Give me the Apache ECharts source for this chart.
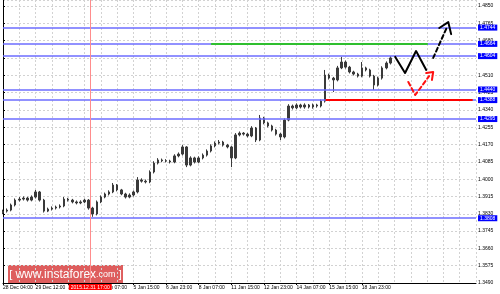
<!DOCTYPE html>
<html><head><meta charset="utf-8">
<script src="https://cdn.jsdelivr.net/npm/echarts@6/dist/echarts.min.js"></script>
<style>html,body{margin:0;padding:0;background:#fff}#c{width:500px;height:294px}</style>
</head><body><div id="c"></div>
<script>
// ---- data (4-hour candles) ----
const opens=[1.3835,1.3843,1.3848,1.3873,1.3897,1.3902,1.3907,1.3897,1.3912,1.3937,
 1.3897,1.3843,1.3853,1.3858,1.3863,1.3868,1.3902,1.3897,1.3888,1.3883,
 1.3888,1.3897,1.3858,1.3829,1.3888,1.3912,1.3927,1.3937,1.3971,1.3947,
 1.3927,1.3912,1.3922,1.3937,1.3996,1.3990,1.3986,1.4035,1.4079,1.4094,
 1.4090,1.4089,1.4084,1.4114,1.4123,1.4158,1.4069,1.4104,1.4084,1.4104,
 1.4118,1.4138,1.4163,1.4177,1.4182,1.4167,1.4158,1.4104,1.4217,1.4226,
 1.4221,1.4212,1.4251,1.4192,1.4300,1.4276,1.4261,1.4241,1.4221,1.4207,
 1.4290,1.4359,1.4350,1.4364,1.4354,1.4364,1.4354,1.4364,1.4359,1.4383,
 1.4511,1.4496,1.4487,1.4546,1.4575,1.4550,1.4526,1.4516,1.4506,1.4546,
 1.4536,1.4506,1.4462,1.4496,1.4546,1.4570];
const closes=[1.3843,1.3848,1.3873,1.3897,1.3902,1.3907,1.3897,1.3912,1.3937,1.3897,
 1.3843,1.3853,1.3858,1.3863,1.3868,1.3902,1.3897,1.3888,1.3883,1.3888,
 1.3897,1.3858,1.3829,1.3888,1.3912,1.3927,1.3937,1.3971,1.3947,1.3927,
 1.3912,1.3922,1.3937,1.3996,1.3990,1.3986,1.4035,1.4079,1.4094,1.4090,
 1.4089,1.4084,1.4114,1.4123,1.4158,1.4069,1.4104,1.4084,1.4104,1.4118,
 1.4138,1.4163,1.4177,1.4182,1.4167,1.4158,1.4104,1.4217,1.4226,1.4221,
 1.4212,1.4251,1.4192,1.4300,1.4276,1.4261,1.4241,1.4221,1.4207,1.4290,
 1.4359,1.4350,1.4364,1.4354,1.4364,1.4354,1.4364,1.4359,1.4383,1.4511,
 1.4496,1.4487,1.4546,1.4575,1.4550,1.4526,1.4516,1.4506,1.4546,1.4536,
 1.4506,1.4462,1.4496,1.4546,1.4570,1.4595];
const highs=[1.3850,1.3856,1.3880,1.3905,1.3912,1.3915,1.3913,1.3920,1.3947,1.3942,
 1.3903,1.3860,1.3866,1.3870,1.3876,1.3912,1.3908,1.3903,1.3895,1.3896,
 1.3904,1.3902,1.3864,1.3895,1.3920,1.3934,1.3945,1.3981,1.3976,1.3952,
 1.3933,1.3930,1.3944,1.4010,1.4004,1.3998,1.4043,1.4088,1.4103,1.4101,
 1.4098,1.4095,1.4122,1.4131,1.4167,1.4162,1.4112,1.4110,1.4112,1.4126,
 1.4146,1.4171,1.4185,1.4192,1.4188,1.4173,1.4163,1.4226,1.4234,1.4231,
 1.4227,1.4260,1.4256,1.4315,1.4306,1.4282,1.4267,1.4247,1.4227,1.4298,
 1.4368,1.4366,1.4372,1.4370,1.4372,1.4369,1.4371,1.4370,1.4391,1.4536,
 1.4518,1.4502,1.4556,1.4600,1.4582,1.4556,1.4532,1.4522,1.4575,1.4552,
 1.4542,1.4512,1.4503,1.4554,1.4578,1.4604];
const lows=[1.3828,1.3836,1.3842,1.3866,1.3890,1.3895,1.3890,1.3891,1.3905,1.3890,
 1.3836,1.3838,1.3846,1.3851,1.3856,1.3862,1.3890,1.3881,1.3876,1.3877,
 1.3882,1.3850,1.3815,1.3822,1.3882,1.3906,1.3920,1.3931,1.3940,1.3921,
 1.3905,1.3906,1.3915,1.3930,1.3983,1.3979,1.3980,1.4028,1.4072,1.4083,
 1.4082,1.4077,1.4078,1.4107,1.4116,1.4059,1.4063,1.4077,1.4078,1.4097,
 1.4111,1.4131,1.4156,1.4170,1.4160,1.4151,1.4059,1.4098,1.4210,1.4214,
 1.4205,1.4206,1.4182,1.4186,1.4269,1.4254,1.4234,1.4214,1.4192,1.4200,
 1.4284,1.4342,1.4344,1.4347,1.4346,1.4347,1.4346,1.4351,1.4352,1.4376,
 1.4489,1.4428,1.4480,1.4540,1.4543,1.4519,1.4509,1.4499,1.4500,1.4529,
 1.4499,1.4438,1.4455,1.4489,1.4539,1.4563];

const xTickIndex=[0,8,16,24,32,40,48,56,64,72,80,88];
const xTickText=['28 Dec 04:00','29 Dec 12:00','30 Dec 20:00','4 Jan 07:00','5 Jan 15:00','6 Jan 23:00',
 '8 Jan 07:00','11 Jan 15:00','12 Jan 23:00','14 Jan 07:00','15 Jan 15:00','18 Jan 23:00'];
const yMin=1.3490, yStep=0.0085;

const levelPrices=[1.4744,1.4664,1.4604,1.4440,1.4388,1.4295,1.3808];
const cursorX=21.4, cursorText='2015.12.31 17:00';
const redLevel=[[79.3,1.4388],[115.0,1.4388]];
const greenLevel=[[51.2,1.4664],[104.0,1.4664]];
const blackZig=[[96.2,1.4600],[98.6,1.4521],[101.3,1.4629],[103.8,1.4536]];
const blackDash=[[105.5,1.4595],[108.9,1.4747]];
const blackHead=[[107.0,1.4742],[109.2,1.4771],[109.9,1.4712]];
const redDash=[[99.4,1.4477],[101.1,1.4413],[104.5,1.4506]];
const redHead=[[103.8,1.4521],[105.5,1.4526],[105.2,1.4487]];

// ---- chart ----
const N=117;
const cats=Array.from({length:N},(_,i)=>String(i));
const candleData=opens.map((o,i)=>[o,closes[i],lows[i],highs[i]]);
const FONT='Liberation Sans';
const chart=echarts.init(document.getElementById('c'),null,{renderer:'canvas'});
const lineS=(data,color,width,type,z)=>({type:'line',xAxisIndex:1,data,symbol:'none',silent:true,z:z||5,
  lineStyle:{color,width,type:type||'solid',cap:'round',join:'round'},animation:false});
chart.setOption({
  animation:false,
  backgroundColor:'#fff',
  grid:{left:2,right:24,top:0,bottom:11,containLabel:false},
  xAxis:[{type:'category',data:cats,boundaryGap:false,
    axisLine:{show:true,lineStyle:{color:'#000',width:1}},
    axisTick:{show:true,length:2,interval:(i)=>xTickIndex.includes(i),lineStyle:{color:'#000'}},
    axisLabel:{show:true,interval:(i)=>xTickIndex.includes(i),align:'left',margin:2,fontSize:5,color:'#000',fontFamily:FONT,
      formatter:(v,i)=>{const k=xTickIndex.indexOf(Number(v));return k>=0?xTickText[k]:'';}},
    splitLine:{show:true,interval:(i)=>i%4===0,lineStyle:{color:'#d2d2d2',type:[2,2],width:1}}},
   {type:'value',min:0,max:N-1,show:false}],
  yAxis:{type:'value',position:'right',min:yMin,max:1.48795,interval:yStep,
    axisLine:{show:true,lineStyle:{color:'#000',width:1}},
    axisTick:{show:true,length:2,lineStyle:{color:'#000'}},
    axisLabel:{fontSize:5,color:'#000',margin:2,fontFamily:FONT,showMaxLabel:false,formatter:v=>v.toFixed(4)},
    splitLine:{show:true,lineStyle:{color:'#d2d2d2',type:[2,2],width:1}}},
  series:[
    {type:'line',xAxisIndex:1,data:[],symbol:'none',z:3,
      markLine:{silent:true,symbol:'none',animation:false,precision:4,
        lineStyle:{color:'#6c6cff',width:1.5,type:'solid'},
        label:{show:true,position:'end',distance:2,formatter:p=>Number(p.value).toFixed(4),
          backgroundColor:'#0000ff',color:'#fff',fontSize:5,fontFamily:FONT,padding:[1,2,0,2]},
        data:levelPrices.map(v=>({yAxis:v}))}},
    {type:'line',xAxisIndex:1,data:[],symbol:'none',z:3,
      markLine:{silent:true,symbol:'none',animation:false,precision:4,
        lineStyle:{color:'#ff8c8c',width:1,type:'solid'},
        label:{show:true,position:'start',distance:1,formatter:()=>cursorText,
          backgroundColor:'#ff0000',color:'#fff',fontSize:5,fontFamily:FONT,padding:[1,2,0,2]},
        data:[{xAxis:cursorX}]}},
    {type:'candlestick',xAxisIndex:0,data:candleData,barWidth:2,z:4,
      itemStyle:{color:'#3a3a3a',color0:'#3a3a3a',borderColor:'#3a3a3a',borderColor0:'#3a3a3a',borderWidth:1}},
    lineS(redLevel,'#ff0000',2),
    lineS(greenLevel,'#2fbf2f',2),
    lineS(blackZig,'#000',2),
    lineS(blackDash,'#000',2,[4,3]),
    lineS(blackHead,'#000',2),
    lineS(redDash,'#ff1010',2,[4,3]),
    lineS(redHead,'#ff1010',2)
  ],
  graphic:[{type:'group',left:8,top:265,z:100,children:[
    {type:'rect',shape:{x:0,y:0,width:115,height:18},style:{fill:'rgba(214,52,52,0.8)'}},
    {type:'text',x:57.5,y:9.5,style:{text:'[ {a|www.instaforex}{b|.com} ]',fill:'#fff',font:'11px '+FONT,
      align:'center',verticalAlign:'middle',
      rich:{a:{fontSize:12,fill:'#fff',fontFamily:FONT},b:{fontSize:9,fill:'#fff',fontFamily:FONT}}}}]}]
});
</script></body></html>
